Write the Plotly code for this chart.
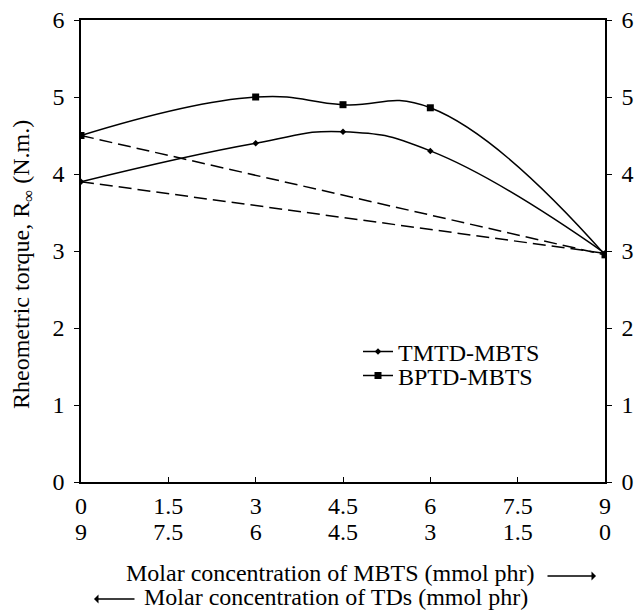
import plotly.graph_objects as go

# Data
mbts = [0, 3, 4.5, 6, 9]
tmtd_mbts = [3.9, 4.4, 4.55, 4.3, 2.97]
bptd_mbts = [4.5, 5.0, 4.9, 4.86, 2.95]
# additivity (dashed) lines between pure-component endpoints
add_x = [0, 9]
add_tmtd = [3.9, 2.97]
add_bptd = [4.5, 2.95]

tick_vals = [0, 1.5, 3, 4.5, 6, 7.5, 9]
tick_mbts = ["0", "1.5", "3", "4.5", "6", "7.5", "9"]
tick_tds = ["9", "7.5", "6", "4.5", "3", "1.5", "0"]
y_ticks = [0, 1, 2, 3, 4, 5, 6]

FONT = "Liberation Serif"
FS = 24
fig = go.Figure()

dash_style = dict(color="black", width=1.5, dash="13px,6px")
fig.add_trace(go.Scatter(x=add_x, y=add_bptd, mode="lines", line=dash_style,
                         showlegend=False, hoverinfo="skip"))
fig.add_trace(go.Scatter(x=add_x, y=add_tmtd, mode="lines", line=dash_style,
                         showlegend=False, hoverinfo="skip"))
fig.add_trace(go.Scatter(x=mbts, y=tmtd_mbts, mode="lines+markers", name="TMTD-MBTS",
                         line=dict(color="black", width=1.5, shape="spline", smoothing=1.3),
                         marker=dict(symbol="diamond", size=5, color="black"),
                         legend="legend"))
fig.add_trace(go.Scatter(x=mbts, y=bptd_mbts, mode="lines+markers", name="BPTD-MBTS",
                         line=dict(color="black", width=1.5, shape="spline", smoothing=1.3),
                         marker=dict(symbol="square", size=7, color="black"),
                         legend="legend2"))
# invisible trace carrying the secondary axes
fig.add_trace(go.Scatter(x=[0, 9], y=[0, 6], xaxis="x2", yaxis="y2", mode="markers",
                         marker=dict(opacity=0), showlegend=False, hoverinfo="skip"))

W, H = 641, 612
L, R, T, B = 81, 36, 20, 130
pw, ph = W - L - R, H - T - B


def px(x):
    return (x - L) / pw


def py(y):
    return (H - B - y) / ph


axis_common = dict(showgrid=False, zeroline=False, automargin=False,
                   tickfont=dict(size=FS, family=FONT, color="black"))

leg_common = dict(xanchor="left", yanchor="middle", bgcolor="rgba(0,0,0,0)",
                  font=dict(size=FS, family=FONT, color="black"), itemwidth=30,
                  tracegroupgap=0)

fig.update_layout(
    width=W, height=H,
    margin=dict(l=L, r=R, t=T, b=B, autoexpand=False),
    paper_bgcolor="white", plot_bgcolor="white",
    font=dict(family=FONT, color="black", size=FS),
    xaxis=dict(range=[0, 9], tickvals=tick_vals, ticktext=tick_mbts,
               showline=True, linecolor="black", linewidth=1.5, mirror=True,
               ticks="inside", ticklen=5, tickcolor="black", ticklabelstandoff=1,
               **axis_common),
    xaxis2=dict(range=[0, 9], overlaying="x", side="bottom", anchor="y",
                tickvals=tick_vals, ticktext=tick_tds, showline=False, ticks="",
                ticklabelstandoff=33, **axis_common),
    yaxis=dict(range=[0, 6], tickvals=y_ticks, showline=True, linecolor="black", linewidth=1.5,
               ticks="outside", ticklen=5, tickcolor="black", ticklabelstandoff=5,
               **axis_common),
    yaxis2=dict(range=[0, 6], tickvals=y_ticks, overlaying="y", side="right", anchor="x",
                showline=True, linecolor="black", linewidth=1.5,
                ticks="outside", ticklen=5, tickcolor="black", ticklabelstandoff=5,
                **axis_common),
    legend=dict(x=px(358), y=py(352), **leg_common),
    legend2=dict(x=px(358), y=py(376), **leg_common),
    showlegend=True,
)

fig.add_annotation(text="Rheometric torque, R<sub>∞</sub> (N.m.)", xref="paper", yref="paper",
                   x=px(23), y=py(265), xanchor="center", yanchor="middle", textangle=-90,
                   showarrow=False, font=dict(size=FS))
fig.add_annotation(text="Molar concentration of MBTS (mmol phr)", xref="paper", yref="paper",
                   x=px(124), y=py(573), xanchor="left", yanchor="middle", showarrow=False,
                   font=dict(size=FS))
fig.add_annotation(text="", xref="paper", yref="paper", x=px(596), y=py(576),
                   ax=-50, ay=0, showarrow=True, arrowhead=1, arrowsize=1, arrowwidth=1.5,
                   arrowcolor="black")
fig.add_annotation(text="Molar concentration of TDs (mmol phr)", xref="paper", yref="paper",
                   x=px(142), y=py(597), xanchor="left", yanchor="middle", showarrow=False,
                   font=dict(size=FS))
fig.add_annotation(text="", xref="paper", yref="paper", x=px(94), y=py(599),
                   ax=42, ay=0, showarrow=True, arrowhead=1, arrowsize=1, arrowwidth=1.5,
                   arrowcolor="black")

fig.write_html("out.html", config={"displayModeBar": False},
               post_script="document.body.style.margin='0px';")
